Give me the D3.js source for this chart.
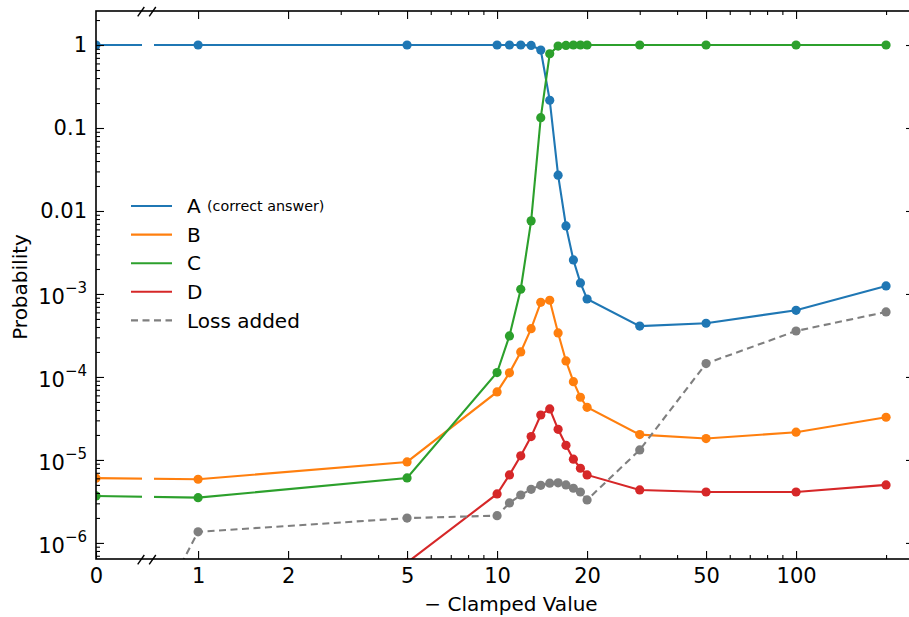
<!DOCTYPE html>
<html><head><meta charset="utf-8">
<script src="https://cdn.jsdelivr.net/npm/d3@7"></script>
<style>body{margin:0;background:#fff}svg{display:block}text{font-family:"DejaVu Sans",sans-serif}</style>
</head><body>
<svg id="c" width="909" height="617"></svg>
<script>
const xVals = [0,1,5,10,11,12,13,14,15,16,17,18,19,20,30,50,100,200];
const seriesA = [1,1,1,1,1,1,0.99,0.87,0.216,0.027,0.0066,0.00257,0.00136,0.00087,0.00041,0.000444,0.000636,0.00125];
const seriesB = [6.03e-6,5.85e-6,9.46e-6,6.6e-5,1.12e-4,2.0e-4,3.82e-4,7.94e-4,8.4e-4,3.39e-4,1.56e-4,8.78e-5,5.69e-5,4.31e-5,2.02e-5,1.81e-5,2.16e-5,3.27e-5];
const seriesC = [3.68e-6,3.51e-6,6.07e-6,1.13e-4,3.12e-4,1.14e-3,7.6e-3,0.133,0.785,0.97,0.99,1,1,1,1,1,1,1];
const seriesD = [1e-7,1e-7,5.8e-7,3.89e-6,6.6e-6,1.12e-5,1.91e-5,3.48e-5,4.12e-5,2.34e-5,1.5e-5,1.02e-5,7.94e-6,6.6e-6,4.35e-6,4.11e-6,4.11e-6,5.0e-6];
const seriesLoss = [6e-9,1.36e-6,1.99e-6,2.13e-6,3.03e-6,3.78e-6,4.43e-6,4.95e-6,5.24e-6,5.3e-6,5.0e-6,4.56e-6,4.11e-6,3.3e-6,1.32e-5,1.45e-4,3.58e-4,6.07e-4];
const seriesNames = ["A","B","C","D","Loss added"];
const xMajorTicks = [0,1,2,5,10,20,50,100];
const xMinorTicks = [3,4,6,7,8,9,30,40,60,70,80,90,200];
const yMajorTicks = [1,0.1,0.01,1e-3,1e-4,1e-5,1e-6];
const yTickLabels = [["1",null],["0.1",null],["0.01",null],["10","\u22123"],["10","\u22124"],["10","\u22125"],["10","\u22126"]];

const colors = ["#1f77b4","#ff7f0e","#2ca02c","#d62728","#7f7f7f"];
const L=96, R=914, T=11, B=559, breakL=142, breakR=154;

const svg = d3.select("#c");
const xLog = d3.scaleLog().domain([0.68, 248]).range([148, R]);
const xs = v => v === 0 ? L : xLog(v);
xs.copy = () => xs; xs.range = () => [L, R]; xs.domain = () => [0, 248];
const y = d3.scaleLog().domain([2.57, 6.4e-7]).range([T, B]);

const defs = svg.append("defs");
const cp = defs.append("clipPath").attr("id","clip");
cp.append("rect").attr("x",L).attr("y",T).attr("width",breakL-L).attr("height",B-T);
cp.append("rect").attr("x",breakR).attr("y",T).attr("width",R-breakR).attr("height",B-T);

const all = [seriesA,seriesB,seriesC,seriesD,seriesLoss];
const plot = svg.append("g").attr("clip-path","url(#clip)");
const line = d3.line().x(d=>xs(d[0])).y(d=>y(d[1]));
all.forEach((s,i)=>{
  const pts = xVals.map((x,j)=>[x,s[j]]);
  plot.append("path").attr("d",line(pts)).attr("fill","none").attr("stroke",colors[i])
    .attr("stroke-width",2.1).attr("stroke-dasharray", i===4 ? "7,4.5" : null);
  plot.selectAll(null).data(pts).enter().append("circle")
    .attr("cx",d=>xs(d[0])).attr("cy",d=>y(d[1])).attr("r",4.6).attr("fill",colors[i]);
});

// axes
function styleAxis(g){ g.select(".domain").remove(); g.selectAll(".tick line").attr("stroke","#000").attr("stroke-width",1.1); }
const fmt = d => String(d);
svg.append("g").attr("transform",`translate(0,${B})`)
  .call(d3.axisBottom(xs).tickValues(xMajorTicks).tickSizeInner(-8).tickSizeOuter(0).tickPadding(9).tickFormat(fmt))
  .call(styleAxis).call(g=>g.selectAll("text").attr("font-size",21).attr("fill","#000").attr("font-family","DejaVu Sans"));
svg.append("g").attr("transform",`translate(0,${B})`)
  .call(d3.axisBottom(xs).tickValues(xMinorTicks).tickSizeInner(-4).tickSizeOuter(0).tickFormat(""))
  .call(styleAxis);
svg.append("g").attr("transform",`translate(0,${T})`)
  .call(d3.axisTop(xs).tickValues(xMajorTicks.filter(d=>d>0)).tickSizeInner(-8).tickSizeOuter(0).tickFormat(""))
  .call(styleAxis);
svg.append("g").attr("transform",`translate(0,${T})`)
  .call(d3.axisTop(xs).tickValues(xMinorTicks).tickSizeInner(-4).tickSizeOuter(0).tickFormat(""))
  .call(styleAxis);

const yMinor = [];
for (let e=-7;e<=0;e++) for (let k=2;k<=9;k++){ const v=k*Math.pow(10,e); if (v>6.4e-7 && v<2.57) yMinor.push(v); }
svg.append("g").attr("transform",`translate(${L},0)`)
  .call(d3.axisLeft(y).tickValues(yMajorTicks).tickSizeInner(-8).tickSizeOuter(0).tickPadding(9).tickFormat(""))
  .call(styleAxis)
  .call(g=>g.selectAll(".tick").each(function(d,i){
    const lab = yTickLabels[i];
    const t = d3.select(this).append("text").attr("x",-9).attr("text-anchor","end")
      .attr("font-size",21).attr("fill","#000");
    if (lab[1]===null){ t.attr("dy","0.33em").text(lab[0]); }
    else {
      t.attr("dy","0.45em");
      t.append("tspan").text(lab[0]);
      t.append("tspan").attr("font-size",15).attr("dy","-0.75em").text(lab[1]);
    }
  }));
svg.append("g").attr("transform",`translate(${L},0)`)
  .call(d3.axisLeft(y).tickValues(yMinor).tickSizeInner(-4).tickSizeOuter(0).tickFormat(""))
  .call(styleAxis);
svg.append("g").attr("transform",`translate(${R},0)`)
  .call(d3.axisRight(y).tickValues(yMajorTicks).tickSizeInner(-8).tickSizeOuter(0).tickFormat(""))
  .call(styleAxis);
svg.append("g").attr("transform",`translate(${R},0)`)
  .call(d3.axisRight(y).tickValues(yMinor).tickSizeInner(-4).tickSizeOuter(0).tickFormat(""))
  .call(styleAxis);

// spines
svg.append("rect").attr("x",L).attr("y",T).attr("width",R-L).attr("height",B-T)
  .attr("fill","none").attr("stroke","#000").attr("stroke-width",1.6);

// break marks
[T,B].forEach(sy=>{
  [141,152.5].forEach(cx=>{
    svg.append("line").attr("x1",cx-3.3).attr("y1",sy+5.3).attr("x2",cx+3.3).attr("y2",sy-4)
      .attr("stroke","#000").attr("stroke-width",1.4);
  });
});

// labels
svg.append("text").attr("x",511).attr("y",611).attr("text-anchor","middle").attr("font-size",20).text("\u2212 Clamped Value");
svg.append("text").attr("transform","translate(27,287) rotate(-90)").attr("text-anchor","middle").attr("font-size",20).text("Probability");

// legend
const leg = svg.append("g");
seriesNames.forEach((n,i)=>{
  const ly = 206 + i*28.6;
  leg.append("line").attr("x1",131).attr("x2",172).attr("y1",ly).attr("y2",ly)
    .attr("stroke",colors[i]).attr("stroke-width",2.1).attr("stroke-dasharray", i===4 ? "7,4.5" : null);
  leg.append("text").attr("x",187).attr("y",ly).attr("dy","0.36em").attr("font-size",20).text(n);
  if (i===0) leg.append("text").attr("x",207).attr("y",ly).attr("dy","0.36em").attr("font-size",14.3).text("(correct answer)");
});
</script>
</body></html>
